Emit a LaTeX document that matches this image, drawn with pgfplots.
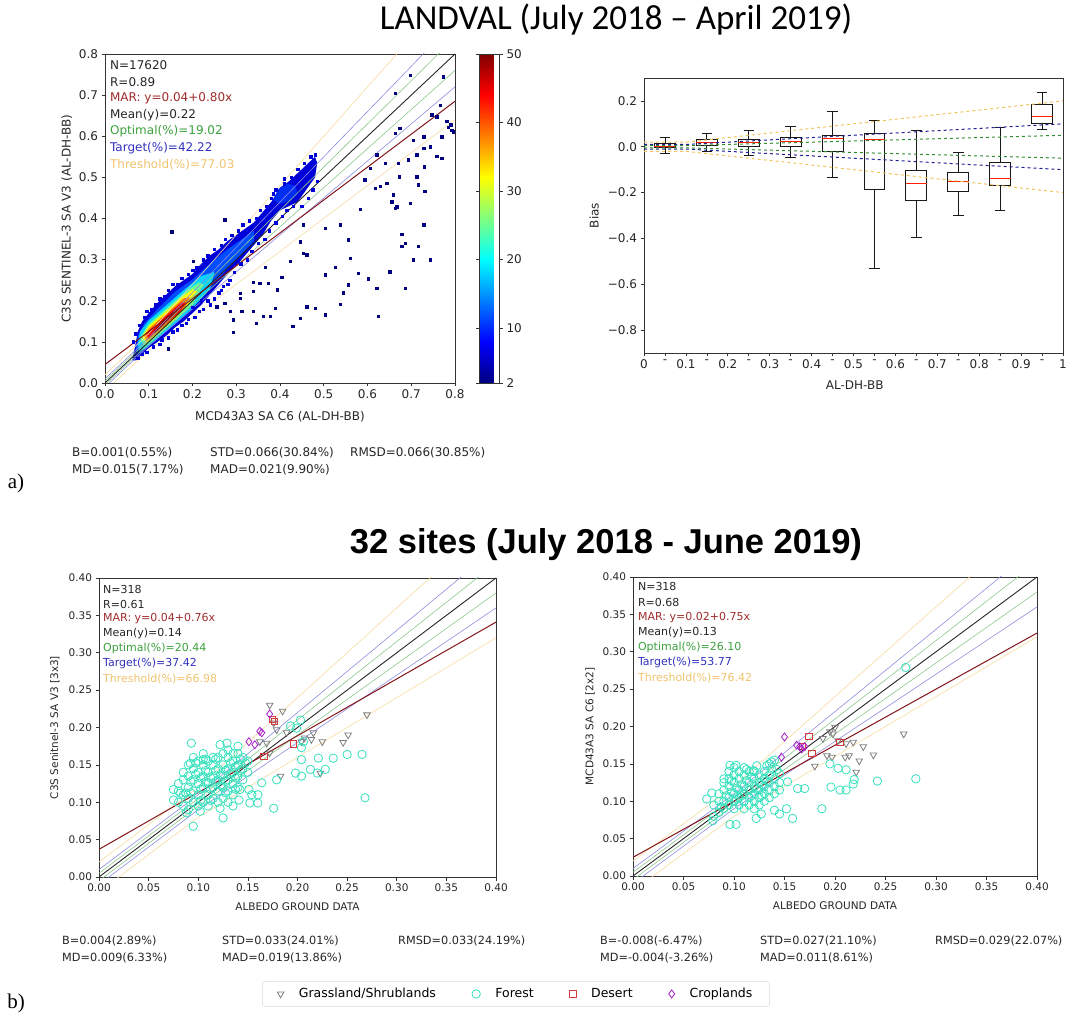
\documentclass[border=0pt]{standalone}
\usepackage{fontspec}
\setmainfont{DejaVu Sans}
\newfontfamily\carlito{Carlito}
\newfontfamily\arialb{Liberation Sans}
\newfontfamily\serifab{Liberation Serif}
\usepackage{pgfplots}
\pgfplotsset{compat=1.18}
\usepgfplotslibrary{statistics}
\newcommand\fs[1]{\fontsize{#1}{#1}\selectfont}
\definecolor{optc}{RGB}{60,160,60}
\definecolor{tarc}{RGB}{50,50,190}
\definecolor{thrc}{RGB}{240,195,110}
\definecolor{marc}{RGB}{160,45,45}
\definecolor{marl}{RGB}{130,20,25}
\definecolor{optl}{RGB}{140,200,140}
\definecolor{tarl}{RGB}{140,140,225}
\definecolor{thrl}{RGB}{248,220,160}
\definecolor{forc}{RGB}{55,225,190}
\definecolor{grac}{RGB}{125,125,125}
\definecolor{desc}{RGB}{215,60,60}
\definecolor{croc}{RGB}{165,30,200}
\definecolor{jA}{rgb}{0,0,0.5}
\definecolor{jB}{rgb}{0,0,0.85}
\definecolor{jC}{rgb}{0,0.3,1}
\definecolor{jD}{rgb}{0,0.83,1}
\definecolor{jE}{rgb}{0.42,1,0.58}
\definecolor{jF}{rgb}{1,1,0}
\definecolor{jG}{rgb}{1,0.5,0}
\definecolor{jH}{rgb}{0.96,0,0}
\definecolor{jI}{rgb}{0.55,0,0}
\definecolor{bxg}{RGB}{50,140,50}
\definecolor{bxb}{RGB}{30,30,150}
\definecolor{bxy}{RGB}{242,195,90}
\pgfplotsset{
 mpl/.style={scale only axis, anchor=south west,
   axis line style={draw=black!80,line width=0.7pt},
   tick style={black!80,line width=0.7pt}, tick align=outside,
   major tick length=3.5pt, tick pos=left,
   /pgf/number format/assume math mode=true},
}
\begin{document}
\begin{tikzpicture}[x=1pt,y=1pt]
\path[use as bounding box] (0,0) rectangle (1070,1017);
% ================= top-left scatter =================
\begin{axis}[mpl, at={(105pt,634pt)}, width=350pt, height=329pt,
  xmin=0,xmax=0.8,ymin=0,ymax=0.8,
  xtick={0,0.1,0.2,0.3,0.4,0.5,0.6,0.7,0.8},
  xticklabels={0.0,0.1,0.2,0.3,0.4,0.5,0.6,0.7,0.8},
  ytick={0,0.1,0.2,0.3,0.4,0.5,0.6,0.7,0.8},
  yticklabels={0.0,0.1,0.2,0.3,0.4,0.5,0.6,0.7,0.8},
  ticklabel style={font=\fs{12}, text=black!85},
  xlabel={MCD43A3 SA C6 (AL-DH-BB)}, ylabel={C3S SENTINEL-3 SA V3 (AL-DH-BB)},
  label style={font=\fs{12}, text=black!85},
  xlabel style={at={(axis description cs:0.5,-0.103)}, anchor=center},
  ylabel style={at={(axis description cs:-0.109,0.5)}, anchor=center},
  colormap/jet, point meta min=2, point meta max=50,
  colorbar,
  colorbar style={at={(parent axis.north east)}, anchor=north west, xshift=16pt,
    scale only axis, width=20pt, height=329pt,
    ytick={2,10,20,30,40,50}, yticklabels={2,10,20,30,40,50},
    yticklabel style={font=\fs{12}, text=black!85},
    tick align=outside, major tick length=3.5pt,
    axis line style={draw=black!80,line width=0.7pt},
    tick style={black!80,line width=0.7pt}},
]
% density cloud layers
\addplot[fill=jB, draw=none] coordinates {(0.062,0.055)(0.068,0.085)(0.075,0.125)(0.085,0.15)(0.1,0.17)(0.12,0.195)(0.14,0.215)(0.16,0.235)(0.18,0.25)(0.2,0.265)(0.22,0.29)(0.24,0.31)(0.26,0.325)(0.28,0.345)(0.3,0.36)(0.32,0.375)(0.34,0.39)(0.36,0.415)(0.38,0.44)(0.40,0.475)(0.42,0.49)(0.44,0.51)(0.46,0.53)(0.48,0.55)(0.485,0.535)(0.48,0.5)(0.46,0.47)(0.44,0.44)(0.42,0.43)(0.40,0.42)(0.38,0.395)(0.36,0.36)(0.34,0.335)(0.32,0.31)(0.30,0.285)(0.28,0.265)(0.26,0.24)(0.24,0.215)(0.22,0.19)(0.20,0.17)(0.18,0.15)(0.16,0.135)(0.14,0.115)(0.12,0.1)(0.10,0.085)(0.08,0.065)(0.07,0.055)} --cycle;
\addplot[fill=jC, draw=none] coordinates {(0.07,0.08)(0.075,0.115)(0.09,0.145)(0.12,0.18)(0.16,0.222)(0.2,0.252)(0.24,0.29)(0.28,0.325)(0.32,0.355)(0.34,0.37)(0.34,0.345)(0.3,0.3)(0.26,0.255)(0.22,0.205)(0.18,0.162)(0.14,0.125)(0.1,0.093)(0.08,0.072)} --cycle;
\addplot[fill=jC!60!jB, draw=none] coordinates {(0.385,0.445)(0.395,0.47)(0.415,0.485)(0.435,0.48)(0.44,0.46)(0.425,0.445)(0.40,0.435)} --cycle;
\addplot[fill=jD, draw=none] coordinates {(0.075,0.094)(0.08,0.125)(0.1,0.152)(0.14,0.189)(0.18,0.226)(0.22,0.26)(0.25,0.27)(0.24,0.228)(0.2,0.182)(0.16,0.145)(0.12,0.108)(0.09,0.082)(0.078,0.078)} --cycle;
\addplot[fill=jE, draw=none] coordinates {(0.08,0.11)(0.1,0.144)(0.14,0.181)(0.18,0.218)(0.215,0.245)(0.225,0.24)(0.2,0.19)(0.16,0.152)(0.12,0.115)(0.09,0.088)} --cycle;
\addplot[fill=jF, draw=none] coordinates {(0.085,0.112)(0.1,0.138)(0.14,0.175)(0.18,0.212)(0.2,0.228)(0.21,0.222)(0.19,0.19)(0.16,0.156)(0.12,0.121)(0.095,0.097)} --cycle;
\addplot[fill=jG, draw=none] coordinates {(0.09,0.115)(0.1,0.132)(0.14,0.169)(0.18,0.206)(0.195,0.208)(0.18,0.18)(0.14,0.14)(0.11,0.113)(0.095,0.102)} --cycle;
\addplot[fill=jH, draw=none] coordinates {(0.095,0.118)(0.1,0.127)(0.14,0.164)(0.175,0.196)(0.185,0.195)(0.17,0.172)(0.14,0.145)(0.11,0.118)(0.1,0.108)} --cycle;
\addplot[fill=jI, draw=none] coordinates {(0.11,0.124)(0.14,0.159)(0.165,0.182)(0.165,0.172)(0.14,0.149)(0.115,0.122)} --cycle;
% edge speckles
\addplot[only marks, mark=square*, mark size=1.2pt, color=jB] coordinates {(0.065,0.1)(0.07,0.12)(0.078,0.14)(0.09,0.16)(0.095,0.175)(0.105,0.18)(0.115,0.19)(0.125,0.205)(0.135,0.21)(0.145,0.225)(0.155,0.24)(0.165,0.24)(0.175,0.255)(0.19,0.265)(0.2,0.275)(0.21,0.28)(0.225,0.3)(0.235,0.31)(0.25,0.325)(0.265,0.335)(0.275,0.35)(0.29,0.36)(0.305,0.37)(0.315,0.385)(0.33,0.395)(0.345,0.4)(0.355,0.42)(0.37,0.43)(0.38,0.45)(0.39,0.47)(0.41,0.485)(0.425,0.5)(0.44,0.52)(0.455,0.535)(0.47,0.55)(0.48,0.555)(0.41,0.497)(0.385,0.46)(0.075,0.06)(0.085,0.07)(0.095,0.075)(0.11,0.088)(0.125,0.095)(0.13,0.105)(0.145,0.11)(0.155,0.125)(0.165,0.13)(0.175,0.14)(0.185,0.145)(0.19,0.155)(0.205,0.16)(0.215,0.175)(0.225,0.18)(0.235,0.2)(0.25,0.205)(0.265,0.225)(0.27,0.235)(0.285,0.25)(0.295,0.27)(0.31,0.29)(0.325,0.3)(0.335,0.32)(0.35,0.34)(0.365,0.35)(0.375,0.37)(0.39,0.39)(0.405,0.405)(0.415,0.42)(0.43,0.43)(0.45,0.43)(0.465,0.45)(0.475,0.47)(0.485,0.49)(0.2,0.185)(0.22,0.2)(0.24,0.19)(0.26,0.22)(0.28,0.24)};
% outliers
\addplot[only marks, mark=square*, mark size=1.2pt, color=jA] coordinates {(0.152,0.368)(0.274,0.397)(0.202,0.296)(0.663,0.704)(0.697,0.749)(0.773,0.745)(0.766,0.676)(0.674,0.619)(0.663,0.607)(0.747,0.652)(0.758,0.648)(0.781,0.636)(0.792,0.615)(0.796,0.611)(0.770,0.599)(0.728,0.599)(0.705,0.591)(0.743,0.575)(0.728,0.571)(0.712,0.555)(0.758,0.551)(0.770,0.547)(0.693,0.543)(0.670,0.534)(0.640,0.534)(0.621,0.555)(0.606,0.522)(0.730,0.526)(0.672,0.502)(0.712,0.502)(0.594,0.494)(0.617,0.474)(0.629,0.478)(0.644,0.486)(0.716,0.482)(0.659,0.458)(0.731,0.466)(0.655,0.441)(0.667,0.429)(0.663,0.425)(0.697,0.437)(0.583,0.423)(0.728,0.385)(0.537,0.385)(0.503,0.377)(0.453,0.385)(0.446,0.344)(0.556,0.348)(0.678,0.362)(0.686,0.340)(0.678,0.332)(0.716,0.332)(0.453,0.316)(0.461,0.312)(0.423,0.296)(0.560,0.304)(0.705,0.300)(0.743,0.300)(0.526,0.281)(0.651,0.271)(0.579,0.267)(0.404,0.257)(0.503,0.263)(0.602,0.254)(0.556,0.239)(0.621,0.231)(0.686,0.231)(0.545,0.220)(0.339,0.245)(0.366,0.281)(0.354,0.243)(0.373,0.243)(0.394,0.227)(0.339,0.223)(0.309,0.219)(0.309,0.206)(0.274,0.194)(0.255,0.186)(0.286,0.174)(0.312,0.174)(0.339,0.174)(0.362,0.162)(0.389,0.182)(0.461,0.186)(0.480,0.182)(0.537,0.192)(0.503,0.166)(0.446,0.158)(0.429,0.138)(0.625,0.162)(0.345,0.146)(0.293,0.154)(0.293,0.124)(0.145,0.083)(0.377,0.162)(0.785,0.622)(0.79,0.628)};
% reference lines
\addplot[thrl, line width=0.6pt] coordinates {(0,0.02)(0.1,0.12)(0.8,0.96)};
\addplot[thrl, line width=0.6pt] coordinates {(0,-0.02)(0.1,0.08)(0.8,0.64)};
\addplot[tarl, line width=0.6pt] coordinates {(0,0.01)(0.1,0.11)(0.8,0.88)};
\addplot[tarl, line width=0.6pt] coordinates {(0,-0.01)(0.1,0.09)(0.8,0.72)};
\addplot[optl, line width=0.6pt] coordinates {(0,0.005)(0.1,0.105)(0.8,0.84)};
\addplot[optl, line width=0.6pt] coordinates {(0,-0.005)(0.1,0.095)(0.8,0.76)};
\addplot[black!85, line width=0.9pt] coordinates {(0,0)(0.8,0.8)};
\addplot[marl, line width=1pt] coordinates {(0,0.045)(0.8,0.685)};
\begin{scope}[every node/.style={anchor=west, inner sep=0pt, font=\fs{12}}]
\node[text=black!85] at (rel axis cs:0.014,0.967) {N=17620};
\node[text=black!85] at (rel axis cs:0.014,0.916) {R=0.89};
\node[text=marc] at (rel axis cs:0.014,0.866) {MAR: y=0.04+0.80x};
\node[text=black!85] at (rel axis cs:0.014,0.815) {Mean(y)=0.22};
\node[text=optc] at (rel axis cs:0.014,0.764) {Optimal(\%)=19.02};
\node[text=tarc] at (rel axis cs:0.014,0.714) {Target(\%)=42.22};
\node[text=thrc] at (rel axis cs:0.014,0.663) {Threshold(\%)=77.03};
\end{scope}
\end{axis}
% ================= top-right boxplot =================
\begin{axis}[mpl, at={(644pt,664pt)}, width=419pt, height=275pt,
  xmin=0,xmax=1,ymin=-0.9,ymax=0.3,
  xtick={0,0.05,0.1,0.15,0.2,0.25,0.3,0.35,0.4,0.45,0.5,0.55,0.6,0.65,0.7,0.75,0.8,0.85,0.9,0.95,1},
  xticklabels={0,-,0.1,-,0.2,-,0.3,-,0.4,-,0.5,-,0.6,-,0.7,-,0.8,-,0.9,-,1},
  ytick={-0.8,-0.6,-0.4,-0.2,0,0.2},
  yticklabels={−0.8,−0.6,−0.4,−0.2,0.0,0.2},
  ticklabel style={font=\fs{12}, text=black!85},
  xlabel={AL-DH-BB}, ylabel={Bias},
  label style={font=\fs{12}, text=black!85},
  xlabel style={at={(axis description cs:0.503,-0.116)}, anchor=center},
  ylabel style={at={(axis description cs:-0.119,0.5)}, anchor=center},
  boxplot/draw direction=y,
  boxplot/every box/.style={draw=black!90, line width=0.9pt},
  boxplot/every whisker/.style={draw=black!90, line width=0.9pt},
  boxplot/every median/.style={draw=red!75!orange, line width=1pt},
]
\addplot[boxplot prepared={draw position=0.05, lower whisker=-0.03, lower quartile=-0.005, median=0.003, upper quartile=0.015, upper whisker=0.04, box extend=0.05, whisker extend=0.025}] coordinates {};
\addplot[boxplot prepared={draw position=0.15, lower whisker=-0.022, lower quartile=0.007, median=0.017, upper quartile=0.032, upper whisker=0.058, box extend=0.05, whisker extend=0.025}] coordinates {};
\addplot[boxplot prepared={draw position=0.25, lower whisker=-0.036, lower quartile=0.003, median=0.019, upper quartile=0.033, upper whisker=0.07, box extend=0.05, whisker extend=0.025}] coordinates {};
\addplot[boxplot prepared={draw position=0.35, lower whisker=-0.048, lower quartile=0.003, median=0.025, upper quartile=0.039, upper whisker=0.09, box extend=0.05, whisker extend=0.025}] coordinates {};
\addplot[boxplot prepared={draw position=0.45, lower whisker=-0.132, lower quartile=-0.019, median=0.036, upper quartile=0.051, upper whisker=0.154, box extend=0.05, whisker extend=0.025}] coordinates {};
\addplot[boxplot prepared={draw position=0.55, lower whisker=-0.529, lower quartile=-0.188, median=0.033, upper quartile=0.058, upper whisker=0.113, box extend=0.05, whisker extend=0.025}] coordinates {};
\addplot[boxplot prepared={draw position=0.65, lower whisker=-0.394, lower quartile=-0.235, median=-0.159, upper quartile=-0.104, upper whisker=0.072, box extend=0.05, whisker extend=0.025}] coordinates {};
\addplot[boxplot prepared={draw position=0.75, lower whisker=-0.301, lower quartile=-0.193, median=-0.152, upper quartile=-0.113, upper whisker=-0.026, box extend=0.05, whisker extend=0.025}] coordinates {};
\addplot[boxplot prepared={draw position=0.85, lower whisker=-0.28, lower quartile=-0.171, median=-0.139, upper quartile=-0.067, upper whisker=0.083, box extend=0.05, whisker extend=0.025}] coordinates {};
\addplot[boxplot prepared={draw position=0.95, lower whisker=0.075, lower quartile=0.101, median=0.130, upper quartile=0.184, upper whisker=0.235, box extend=0.05, whisker extend=0.025}] coordinates {};
\addplot[bxy, dashed, line width=1pt] coordinates {(0,0.02)(0.1,0.02)(1,0.2)};
\addplot[bxy, dashed, line width=1pt] coordinates {(0,-0.02)(0.1,-0.02)(1,-0.2)};
\addplot[bxb, dashed, line width=1pt] coordinates {(0,0.01)(0.1,0.01)(1,0.1)};
\addplot[bxb, dashed, line width=1pt] coordinates {(0,-0.01)(0.1,-0.01)(1,-0.1)};
\addplot[bxg, dashed, line width=1pt] coordinates {(0,0.005)(0.1,0.005)(1,0.05)};
\addplot[bxg, dashed, line width=1pt] coordinates {(0,-0.005)(0.1,-0.005)(1,-0.05)};
\end{axis}
% ================= bottom-left scatter =================
\begin{axis}[mpl, at={(99pt,140pt)}, width=397pt, height=299pt,
  xmin=0,xmax=0.4,ymin=0,ymax=0.4,
  xtick={0,0.05,0.1,0.15,0.2,0.25,0.3,0.35,0.4},
  xticklabels={0.00,0.05,0.10,0.15,0.20,0.25,0.30,0.35,0.40},
  ytick={0,0.05,0.1,0.15,0.2,0.25,0.3,0.35,0.4},
  yticklabels={0.00,0.05,0.10,0.15,0.20,0.25,0.30,0.35,0.40},
  ticklabel style={font=\fs{10.5}, text=black!85},
  xlabel={ALBEDO GROUND DATA}, ylabel={C3S Senitnel-3 SA V3 [3x3]},
  label style={font=\fs{10.5}, text=black!85},
  xlabel style={at={(axis description cs:0.5,-0.1)}, anchor=center},
  ylabel style={at={(axis description cs:-0.111,0.5)}, anchor=center},
  legend columns=4,
  legend style={at={(1.05,-0.391)}, anchor=center, draw=black!15, rounded corners=2pt,
    font=\fs{12.5}, inner xsep=15pt, inner ysep=5pt,
    /tikz/every odd column/.append style={column sep=13pt},
    /tikz/every even column/.append style={column sep=34pt}},
]
\addplot[only marks, mark=triangle, mark size=3.8pt, mark options={rotate=180, line width=0.8pt}, color=grac] coordinates {(0.172,0.230)(0.185,0.222)(0.270,0.217)(0.251,0.190)(0.246,0.180)(0.225,0.181)(0.216,0.193)(0.214,0.184)(0.207,0.186)(0.204,0.181)(0.223,0.139)(0.183,0.135)(0.179,0.197)(0.176,0.206)(0.169,0.179)(0.172,0.166)(0.162,0.181)(0.189,0.193)};
\addplot[only marks, mark=o, mark size=4.2pt, mark options={line width=0.8pt}, color=forc] coordinates {(0.093,0.179)(0.129,0.179)(0.122,0.177)(0.092,0.152)(0.105,0.157)(0.075,0.117)(0.082,0.112)(0.075,0.103)(0.088,0.086)(0.095,0.068)(0.102,0.088)(0.122,0.092)(0.125,0.079)(0.135,0.095)(0.141,0.103)(0.142,0.117)(0.151,0.117)(0.154,0.110)(0.160,0.110)(0.152,0.099)(0.160,0.099)(0.164,0.126)(0.176,0.092)(0.179,0.130)(0.193,0.202)(0.198,0.139)(0.204,0.135)(0.204,0.157)(0.213,0.144)(0.220,0.139)(0.228,0.144)(0.221,0.159)(0.236,0.159)(0.250,0.164)(0.265,0.164)(0.268,0.106)(0.203,0.210)(0.204,0.173)(0.206,0.181)(0.199,0.199)
(0.08,0.10)(0.08,0.115)(0.08,0.125)(0.085,0.095)(0.085,0.11)(0.085,0.13)(0.085,0.14)(0.09,0.09)(0.09,0.105)(0.09,0.12)(0.09,0.135)(0.09,0.15)(0.095,0.10)(0.095,0.115)(0.095,0.13)(0.095,0.145)(0.095,0.16)(0.10,0.095)(0.10,0.11)(0.10,0.125)(0.10,0.14)(0.10,0.155)(0.105,0.10)(0.105,0.12)(0.105,0.135)(0.105,0.15)(0.105,0.165)(0.11,0.095)(0.11,0.11)(0.11,0.125)(0.11,0.14)(0.11,0.155)(0.115,0.105)(0.115,0.12)(0.115,0.135)(0.115,0.15)(0.115,0.16)(0.12,0.10)(0.12,0.115)(0.12,0.13)(0.12,0.145)(0.12,0.16)(0.125,0.105)(0.125,0.12)(0.125,0.135)(0.125,0.15)(0.125,0.165)(0.13,0.10)(0.13,0.115)(0.13,0.13)(0.13,0.145)(0.13,0.16)(0.13,0.17)(0.135,0.11)(0.135,0.125)(0.135,0.14)(0.135,0.155)(0.135,0.165)(0.14,0.12)(0.14,0.135)(0.14,0.15)(0.14,0.165)(0.14,0.175)(0.145,0.13)(0.145,0.145)(0.145,0.16)(0.15,0.14)(0.15,0.155)
(0.0875,0.1125)(0.0925,0.1275)(0.0975,0.1375)(0.1025,0.1175)(0.1025,0.1325)(0.1075,0.1425)(0.1075,0.1275)(0.1125,0.1175)(0.1125,0.1325)(0.1175,0.1425)(0.1175,0.1275)(0.1225,0.1375)(0.1225,0.1225)(0.1275,0.1425)(0.1275,0.1275)(0.1325,0.1375)(0.1325,0.1525)(0.1375,0.1475)(0.1375,0.1325)(0.1425,0.1575)(0.1425,0.1425)(0.1475,0.1525)(0.1175,0.1575)(0.1075,0.1575)(0.0975,0.1525)(0.0925,0.1125)(0.1375,0.1175)(0.1275,0.1125)(0.1125,0.1025)(0.1025,0.1025)};
\addplot[only marks, mark=square, mark size=3.2pt, mark options={line width=0.8pt}, color=desc] coordinates {(0.175,0.211)(0.177,0.208)(0.166,0.161)(0.196,0.178)};
\addplot[only marks, mark=diamond, mark size=4pt, mark options={line width=0.8pt}, color=croc] coordinates {(0.172,0.218)(0.162,0.195)(0.151,0.181)(0.157,0.177)(0.164,0.193)};
\legend{Grassland/Shrublands, Forest, Desert, Croplands}
\addplot[thrl, line width=0.6pt] coordinates {(0,0.02)(0.1,0.12)(0.4,0.48)};
\addplot[thrl, line width=0.6pt] coordinates {(0,-0.02)(0.1,0.08)(0.4,0.32)};
\addplot[tarl, line width=0.6pt] coordinates {(0,0.01)(0.1,0.11)(0.4,0.44)};
\addplot[tarl, line width=0.6pt] coordinates {(0,-0.01)(0.1,0.09)(0.4,0.36)};
\addplot[optl, line width=0.6pt] coordinates {(0,0.005)(0.1,0.105)(0.4,0.42)};
\addplot[optl, line width=0.6pt] coordinates {(0,-0.005)(0.1,0.095)(0.4,0.38)};
\addplot[black!85, line width=0.9pt] coordinates {(0,0)(0.4,0.4)};
\addplot[marl, line width=1pt] coordinates {(0,0.037)(0.4,0.341)};
\begin{scope}[every node/.style={anchor=west, inner sep=0pt, font=\fs{11}}]
\node[text=black!85] at (rel axis cs:0.01,0.963) {N=318};
\node[text=black!85] at (rel axis cs:0.01,0.913) {R=0.61};
\node[text=marc] at (rel axis cs:0.01,0.863) {MAR: y=0.04+0.76x};
\node[text=black!85] at (rel axis cs:0.01,0.813) {Mean(y)=0.14};
\node[text=optc] at (rel axis cs:0.01,0.763) {Optimal(\%)=20.44};
\node[text=tarc] at (rel axis cs:0.01,0.713) {Target(\%)=37.42};
\node[text=thrc] at (rel axis cs:0.01,0.663) {Threshold(\%)=66.98};
\end{scope}
\end{axis}
% ================= bottom-right scatter =================
\begin{axis}[mpl, at={(633pt,141pt)}, width=404pt, height=299pt,
  xmin=0,xmax=0.4,ymin=0,ymax=0.4,
  xtick={0,0.05,0.1,0.15,0.2,0.25,0.3,0.35,0.4},
  xticklabels={0.00,0.05,0.10,0.15,0.20,0.25,0.30,0.35,0.40},
  ytick={0,0.05,0.1,0.15,0.2,0.25,0.3,0.35,0.4},
  yticklabels={0.00,0.05,0.10,0.15,0.20,0.25,0.30,0.35,0.40},
  ticklabel style={font=\fs{10.5}, text=black!85},
  xlabel={ALBEDO GROUND DATA}, ylabel={MCD43A3 SA C6 [2x2]},
  label style={font=\fs{10.5}, text=black!85},
  xlabel style={at={(axis description cs:0.5,-0.1)}, anchor=center},
  ylabel style={at={(axis description cs:-0.106,0.5)}, anchor=center},
]
\addplot[only marks, mark=triangle, mark size=3.8pt, mark options={rotate=180, line width=0.8pt}, color=grac] coordinates {(0.268,0.190)(0.238,0.162)(0.228,0.173)(0.224,0.154)(0.221,0.139)(0.214,0.161)(0.218,0.179)(0.210,0.159)(0.211,0.177)(0.197,0.159)(0.192,0.161)(0.180,0.147)(0.198,0.190)(0.195,0.193)(0.200,0.199)(0.203,0.181)(0.188,0.184)};
\addplot[only marks, mark=o, mark size=4.2pt, mark options={line width=0.8pt}, color=forc] coordinates {(0.270,0.279)(0.280,0.130)(0.242,0.127)(0.219,0.129)(0.218,0.123)(0.211,0.115)(0.205,0.115)(0.196,0.119)(0.211,0.142)(0.203,0.144)(0.195,0.150)(0.187,0.090)(0.158,0.077)(0.152,0.090)(0.145,0.083)(0.140,0.088)(0.122,0.077)(0.127,0.083)(0.102,0.069)(0.096,0.069)(0.079,0.074)(0.073,0.103)(0.078,0.111)(0.096,0.148)(0.102,0.148)(0.119,0.141)(0.163,0.117)(0.170,0.117)(0.153,0.126)(0.145,0.137)(0.137,0.153)
(0.08,0.08)(0.08,0.095)(0.085,0.085)(0.085,0.10)(0.085,0.11)(0.09,0.09)(0.09,0.10)(0.09,0.115)(0.09,0.125)(0.09,0.13)(0.095,0.095)(0.095,0.105)(0.095,0.12)(0.095,0.13)(0.095,0.14)(0.10,0.09)(0.10,0.10)(0.10,0.11)(0.10,0.125)(0.10,0.135)(0.10,0.145)(0.105,0.095)(0.105,0.105)(0.105,0.115)(0.105,0.13)(0.105,0.14)(0.11,0.09)(0.11,0.10)(0.11,0.11)(0.11,0.12)(0.11,0.135)(0.11,0.145)(0.115,0.095)(0.115,0.105)(0.115,0.115)(0.115,0.125)(0.115,0.14)(0.12,0.09)(0.12,0.10)(0.12,0.11)(0.12,0.12)(0.12,0.13)(0.12,0.14)(0.125,0.095)(0.125,0.105)(0.125,0.115)(0.125,0.125)(0.125,0.135)(0.13,0.10)(0.13,0.11)(0.13,0.12)(0.13,0.13)(0.13,0.14)(0.135,0.105)(0.135,0.115)(0.135,0.125)(0.135,0.135)(0.135,0.15)(0.14,0.11)(0.14,0.12)(0.14,0.13)(0.14,0.155)(0.145,0.115)(0.145,0.125)
(0.0925,0.1075)(0.0975,0.1125)(0.1025,0.1175)(0.1075,0.1225)(0.1125,0.1275)(0.1175,0.1325)(0.1225,0.1175)(0.1275,0.1225)(0.1325,0.1275)(0.1375,0.1425)(0.1025,0.1025)(0.1075,0.1075)(0.1175,0.1075)(0.1275,0.1075)(0.0875,0.0925)(0.0975,0.1275)(0.1125,0.1425)(0.1225,0.1475)(0.1325,0.1475)(0.1425,0.1425)};
\addplot[only marks, mark=square, mark size=3.2pt, mark options={line width=0.8pt}, color=desc] coordinates {(0.174,0.187)(0.177,0.164)(0.205,0.179)(0.168,0.173)};
\addplot[only marks, mark=diamond, mark size=4pt, mark options={line width=0.8pt}, color=croc] coordinates {(0.150,0.186)(0.147,0.159)(0.162,0.175)(0.167,0.170)(0.170,0.173)(0.165,0.173)};
\addplot[thrl, line width=0.6pt] coordinates {(0,0.02)(0.1,0.12)(0.4,0.48)};
\addplot[thrl, line width=0.6pt] coordinates {(0,-0.02)(0.1,0.08)(0.4,0.32)};
\addplot[tarl, line width=0.6pt] coordinates {(0,0.01)(0.1,0.11)(0.4,0.44)};
\addplot[tarl, line width=0.6pt] coordinates {(0,-0.01)(0.1,0.09)(0.4,0.36)};
\addplot[optl, line width=0.6pt] coordinates {(0,0.005)(0.1,0.105)(0.4,0.42)};
\addplot[optl, line width=0.6pt] coordinates {(0,-0.005)(0.1,0.095)(0.4,0.38)};
\addplot[black!85, line width=0.9pt] coordinates {(0,0)(0.4,0.4)};
\addplot[marl, line width=1pt] coordinates {(0,0.025)(0.4,0.325)};
\begin{scope}[every node/.style={anchor=west, inner sep=0pt, font=\fs{11}}]
\node[text=black!85] at (rel axis cs:0.012,0.967) {N=318};
\node[text=black!85] at (rel axis cs:0.012,0.916) {R=0.68};
\node[text=marc] at (rel axis cs:0.012,0.866) {MAR: y=0.02+0.75x};
\node[text=black!85] at (rel axis cs:0.012,0.815) {Mean(y)=0.13};
\node[text=optc] at (rel axis cs:0.012,0.764) {Optimal(\%)=26.10};
\node[text=tarc] at (rel axis cs:0.012,0.713) {Target(\%)=53.77};
\node[text=thrc] at (rel axis cs:0.012,0.662) {Threshold(\%)=76.42};
\end{scope}
\end{axis}
% ================= titles and texts =================
\node[font={\carlito\fs{35}}, inner sep=0pt] at (616,997) {LANDVAL (July 2018 – April 2019)};
\node[font={\arialb\bfseries\fs{34.5}}, inner sep=0pt] at (606,472) {32 sites (July 2018 - June 2019)};
\begin{scope}[every node/.style={anchor=west, inner sep=0pt, font=\fs{12}, text=black!85}]
\node at (72,564) {B=0.001(0.55\%)};
\node at (210,564) {STD=0.066(30.84\%)};
\node at (350,564) {RMSD=0.066(30.85\%)};
\node at (72,547) {MD=0.015(7.17\%)};
\node at (210,547) {MAD=0.021(9.90\%)};
\end{scope}
\begin{scope}[every node/.style={anchor=west, inner sep=0pt, font=\fs{11.3}, text=black!85}]
\node at (62,76) {B=0.004(2.89\%)};
\node at (222,76) {STD=0.033(24.01\%)};
\node at (398,76) {RMSD=0.033(24.19\%)};
\node at (62,59) {MD=0.009(6.33\%)};
\node at (222,59) {MAD=0.019(13.86\%)};
\node at (600,76) {B=-0.008(-6.47\%)};
\node at (760,76) {STD=0.027(21.10\%)};
\node at (935,76) {RMSD=0.029(22.07\%)};
\node at (600,59) {MD=-0.004(-3.26\%)};
\node at (760,59) {MAD=0.011(8.61\%)};
\end{scope}
\node[font={\serifab\fs{21}}, inner sep=0pt] at (16,534) {a)};
\node[font={\serifab\fs{21}}, inner sep=0pt] at (16,14) {b)};
\end{tikzpicture}
\end{document}
